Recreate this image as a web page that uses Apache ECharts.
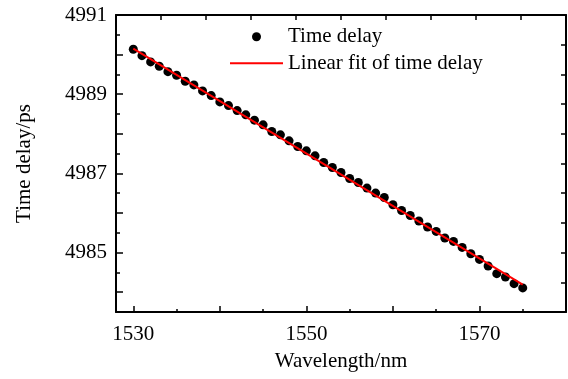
<!DOCTYPE html>
<html><head><meta charset="utf-8">
<script src="https://cdn.jsdelivr.net/npm/echarts@6/dist/echarts.min.js"></script>
<style>html,body{margin:0;padding:0;background:#fff}#c{width:568px;height:379px}</style>
</head><body><div id="c"></div>
<script>
const wavelength = [1530,1531,1532,1533,1534,1535,1536,1537,1538,1539,1540,1541,1542,1543,1544,1545,1546,1547,1548,1549,1550,1551,1552,1553,1554,1555,1556,1557,1558,1559,1560,1561,1562,1563,1564,1565,1566,1567,1568,1569,1570,1571,1572,1573,1574,1575];
const timeDelay = [4990.135,4989.974,4989.815,4989.706,4989.570,4989.479,4989.328,4989.235,4989.083,4988.965,4988.806,4988.712,4988.586,4988.478,4988.344,4988.226,4988.057,4987.973,4987.822,4987.678,4987.570,4987.444,4987.275,4987.149,4987.023,4986.871,4986.770,4986.629,4986.503,4986.392,4986.208,4986.064,4985.938,4985.797,4985.646,4985.535,4985.368,4985.282,4985.131,4984.972,4984.828,4984.662,4984.468,4984.385,4984.216,4984.108];
const fitWavelength = [1530, 1575];
const fitDelay = [4990.15, 4984.19];
const xMajorTicks = [1530,1540,1550,1560,1570];
const xMinorTicks = [1535,1545,1555,1565,1575];
const xTickLabels = [1530,1550,1570];
const yMajorTicks = [4984,4985,4986,4987,4988,4989,4990,4991];
const yMinorTicks = [4984.5,4985.5,4986.5,4987.5,4988.5,4989.5,4990.5];
const yTickLabels = [4985,4987,4989,4991];
const seriesNames = ['Time delay','Linear fit of time delay'];

const FONT = '"Liberation Serif","Times New Roman",serif';
const chart = echarts.init(document.getElementById('c'), null, {renderer:'canvas'});
const axLine = {show:true, onZero:false, lineStyle:{color:'#000', width:2}};
const noLine = {show:false, onZero:false};
const plain = v => String(v);
chart.setOption({
  backgroundColor:'#fff',
  animation:false,
  grid:{left:116, right:2, top:15, bottom:67, containLabel:false},
  legend:{
    orient:'vertical', left:225, top:20.7, itemWidth:53, itemHeight:9, itemGap:4.6,
    symbolKeepAspect:true,
    textStyle:{fontFamily:FONT, fontSize:21, color:'#000', lineHeight:22},
    data:[{name:seriesNames[0], icon:'circle'}, {name:seriesNames[1], icon:'path://M0,0L53,0L53,2L0,2Z'}]
  },
  xAxis:[
    {type:'value', position:'bottom', min:1528, max:1580, axisLine:axLine,
     axisTick:{show:true, inside:true, length:6, customValues:xMajorTicks, lineStyle:{color:'#000', width:1.5}},
     axisLabel:{customValues:xTickLabels, formatter:plain, margin:12, fontFamily:FONT, fontSize:21, color:'#000'},
     splitLine:{show:false},
     name:'Wavelength/nm', nameLocation:'middle', nameGap:39,
     nameTextStyle:{fontFamily:FONT, fontSize:21, color:'#000'}},
    {type:'value', position:'bottom', min:1528, max:1580, axisLine:noLine,
     axisTick:{show:true, inside:true, length:3, customValues:xMinorTicks, lineStyle:{color:'#000', width:1.5}},
     axisLabel:{show:false}, splitLine:{show:false}},
    {type:'value', position:'top', min:0, max:10, interval:1, axisLine:axLine,
     axisTick:{show:true, inside:true, length:5, lineStyle:{color:'#000', width:1.5}},
     axisLabel:{show:false}, splitLine:{show:false}}
  ],
  yAxis:[
    {type:'value', position:'left', min:4983.5, max:4991, axisLine:axLine,
     axisTick:{show:true, inside:true, length:7, customValues:yMajorTicks, lineStyle:{color:'#000', width:1.5}},
     axisLabel:{customValues:yTickLabels, formatter:plain, margin:9, fontFamily:FONT, fontSize:21, color:'#000'},
     splitLine:{show:false},
     name:'Time delay/ps', nameLocation:'middle', nameGap:81,
     nameTextStyle:{fontFamily:FONT, fontSize:21, color:'#000'}},
    {type:'value', position:'left', min:4983.5, max:4991, axisLine:noLine,
     axisTick:{show:true, inside:true, length:4, customValues:yMinorTicks, lineStyle:{color:'#000', width:1.5}},
     axisLabel:{show:false}, splitLine:{show:false}},
    {type:'value', position:'right', min:0, max:10, interval:1, axisLine:axLine,
     axisTick:{show:true, inside:true, length:5, lineStyle:{color:'#000', width:1.5}},
     axisLabel:{show:false}, splitLine:{show:false}}
  ],
  series:[
    {name:seriesNames[0], type:'scatter', xAxisIndex:0, yAxisIndex:0, symbol:'circle', symbolSize:9, z:2,
     itemStyle:{color:'#000', opacity:1},
     data: wavelength.map((w,i)=>[w, timeDelay[i]])},
    {name:seriesNames[1], type:'line', xAxisIndex:0, yAxisIndex:0, symbol:'none', showSymbol:false, z:3,
     lineStyle:{color:'#ff0000', width:2}, itemStyle:{color:'#ff0000'},
     data: fitWavelength.map((w,i)=>[w, fitDelay[i]])}
  ]
});
</script></body></html>
